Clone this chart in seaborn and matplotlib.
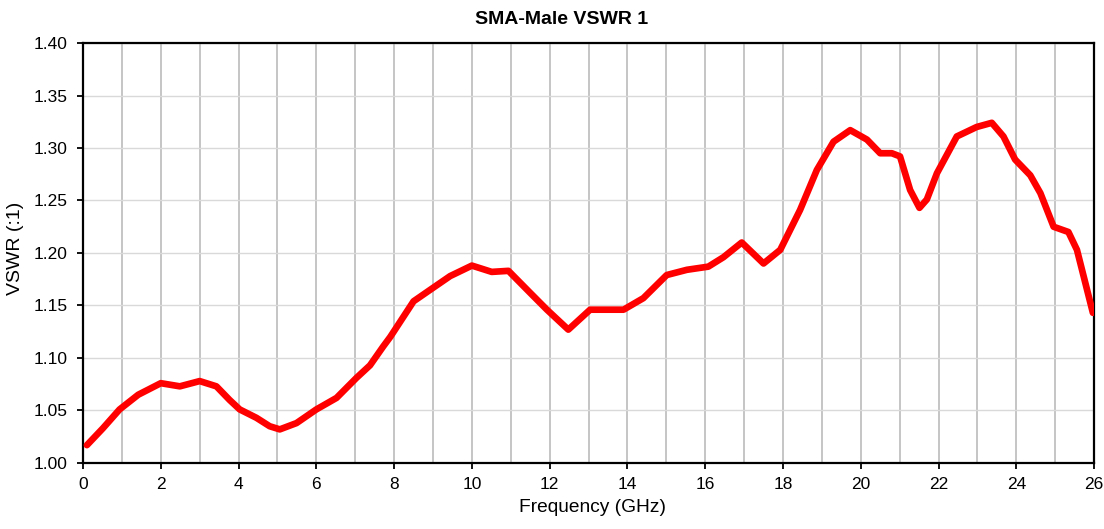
import numpy as np
import pandas as pd
import matplotlib
matplotlib.use("Agg")
import matplotlib.pyplot as plt
import seaborn as sns
from matplotlib.ticker import MultipleLocator, FormatStrFormatter

# Values.
freq_ghz = [0.10, 0.51, 0.94, 1.42, 2.00, 2.49, 3.00, 3.43, 3.77, 4.03,
            4.46, 4.80, 5.06, 5.49, 6.00, 6.52, 7.03, 7.38, 7.72, 7.90,
            8.50, 8.93, 9.44, 10.00, 10.51, 10.94, 11.50, 11.93, 12.48,
            13.04, 13.90, 14.41, 15.01, 15.53, 16.08, 16.47, 16.94, 17.50,
            17.93, 18.44, 18.87, 19.30, 19.73, 20.16, 20.50, 20.80, 21.01,
            21.27, 21.51, 21.70, 21.96, 22.47, 22.98, 23.37, 23.67, 23.97,
            24.36, 24.62, 24.96, 25.34, 25.56, 25.97]
vswr = [1.017, 1.033, 1.051, 1.065, 1.076, 1.073, 1.078, 1.073, 1.060,
        1.051, 1.043, 1.035, 1.032, 1.038, 1.051, 1.062, 1.081, 1.093,
        1.111, 1.120, 1.154, 1.165, 1.178, 1.188, 1.182, 1.183, 1.162,
        1.146, 1.127, 1.146, 1.146, 1.157, 1.179, 1.184, 1.187, 1.196,
        1.210, 1.190, 1.203, 1.241, 1.279, 1.306, 1.317, 1.308, 1.295,
        1.295, 1.292, 1.260, 1.243, 1.251, 1.276, 1.311, 1.320, 1.324,
        1.311, 1.289, 1.274, 1.257, 1.225, 1.220, 1.203, 1.143]

df = pd.DataFrame({"Frequency (GHz)": freq_ghz, "VSWR (:1)": vswr})

sns.set_theme(style="white")
plt.rcParams["font.family"] = ["Liberation Sans", "DejaVu Sans"]
plt.rcParams["text.color"] = "black"
plt.rcParams["axes.labelcolor"] = "black"
plt.rcParams["xtick.color"] = "black"
plt.rcParams["ytick.color"] = "black"

fig = plt.figure(figsize=(11.04, 5.29), dpi=100)
ax = fig.add_axes([0.0752, 0.1248, 0.9158, 0.7939])

sns.lineplot(data=df, x="Frequency (GHz)", y="VSWR (:1)", ax=ax,
             color="#ff0000", linewidth=4.8, solid_joinstyle="round",
             solid_capstyle="round", zorder=3)

ax.set_xlim(0, 26)
ax.set_ylim(1.0, 1.4)
ax.xaxis.set_major_locator(MultipleLocator(2))
ax.xaxis.set_minor_locator(MultipleLocator(1))
ax.yaxis.set_major_locator(MultipleLocator(0.05))
ax.yaxis.set_major_formatter(FormatStrFormatter("%.2f"))

ax.grid(True, which="both", axis="x", color="#c0c0c0", linewidth=1.3)
ax.grid(True, which="major", axis="y", color="#d9d9d9", linewidth=1.0)
ax.set_axisbelow(True)

for side in ["left", "bottom", "top", "right"]:
    ax.spines[side].set_color("black")
    ax.spines[side].set_linewidth(1.6)

ax.tick_params(axis="both", which="major", direction="out", length=4,
               width=1.3, color="black", labelcolor="black", labelsize=12.5,
               bottom=True, left=True, top=False, right=False)
ax.tick_params(axis="y", pad=7)
ax.tick_params(axis="x", pad=6)
ax.tick_params(axis="x", which="minor", length=0)

ax.set_xlabel("Frequency (GHz)", fontsize=13.8, labelpad=4)
ax.set_ylabel("VSWR (:1)", fontsize=14, labelpad=8)
ax.xaxis.set_label_coords(0.504, -0.085)
ax.yaxis.set_label_coords(-0.058, 0.512)
fig.text(0.5086, 0.963, "SMA-Male VSWR 1", fontsize=14, fontweight="bold",
         ha="center", va="center")

fig.savefig("out.png", dpi=100)
